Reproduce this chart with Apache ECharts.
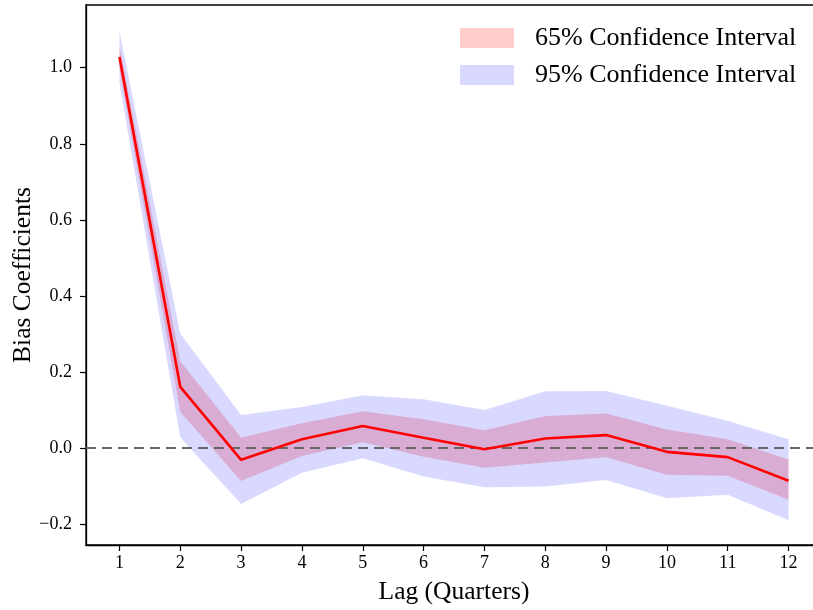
<!DOCTYPE html>
<html>
<head>
<meta charset="utf-8">
<script src="https://cdn.jsdelivr.net/npm/echarts@6/dist/echarts.min.js"></script>
<style>
html,body{margin:0;padding:0;background:#fff;}
#chart{width:813px;height:610px;}
</style>
</head>
<body>
<div id="chart"></div>
<script>
const lags = [1, 2, 3, 4, 5, 6, 7, 8, 9, 10, 11, 12];
const coef    = [1.028, 0.161, -0.031, 0.023, 0.058, 0.027, -0.003, 0.025, 0.034, -0.010, -0.024, -0.086];
const upper65 = [1.058, 0.228, 0.028, 0.065, 0.097, 0.076, 0.047, 0.084, 0.091, 0.049, 0.023, -0.030];
const lower65 = [0.998, 0.095, -0.087, -0.021, 0.015, -0.023, -0.052, -0.038, -0.024, -0.070, -0.073, -0.136];
const upper95 = [1.096, 0.301, 0.087, 0.108, 0.139, 0.128, 0.100, 0.149, 0.150, 0.111, 0.072, 0.023];
const lower95 = [0.960, 0.028, -0.147, -0.065, -0.027, -0.075, -0.103, -0.101, -0.084, -0.132, -0.123, -0.190];
const xTicks = [1, 2, 3, 4, 5, 6, 7, 8, 9, 10, 11, 12];
const yTicks = [-0.2, 0.0, 0.2, 0.4, 0.6, 0.8, 1.0];
const band65Name = '65% Confidence Interval';
const band95Name = '95% Confidence Interval';

const FONT = 'Liberation Serif';
const C65 = 'rgba(255,0,0,0.2)';
const C95 = 'rgba(0,0,255,0.15)';

function bandRenderer(upper, lower, color) {
  return function (params, api) {
    if (params.dataIndex !== 0) return null;
    const pts = [];
    for (let i = 0; i < lags.length; i++) pts.push(api.coord([lags[i], upper[i]]));
    for (let i = lags.length - 1; i >= 0; i--) pts.push(api.coord([lags[i], lower[i]]));
    return {
      type: 'polygon',
      shape: { points: pts },
      style: { fill: color, stroke: null }
    };
  };
}

const chart = echarts.init(document.getElementById('chart'), null, { renderer: 'canvas' });
chart.setOption({
  animation: false,
  backgroundColor: '#fff',
  textStyle: { fontFamily: FONT },
  grid: {
    left: 86, top: 5, bottom: 65, right: -9,
    outerBoundsMode: 'none',
    containLabel: false,
    show: true, borderColor: '#000', borderWidth: 1.3, backgroundColor: 'transparent'
  },
  legend: {
    orient: 'vertical',
    left: 460, top: 25,
    padding: 0,
    itemWidth: 54, itemHeight: 20, itemGap: 11,
    textStyle: { fontFamily: FONT, fontSize: 26, color: '#000', padding: [2, 0, 0, 16] },
    data: [
      { name: band65Name, icon: 'rect', itemStyle: { color: C65 } },
      { name: band95Name, icon: 'rect', itemStyle: { color: C95 } }
    ]
  },
  xAxis: {
    type: 'value',
    min: 0.45, max: 12.55,
    name: 'Lag (Quarters)',
    nameLocation: 'middle',
    nameGap: 34,
    nameMoveOverlap: false,
    nameTextStyle: { fontFamily: FONT, fontSize: 25.5, color: '#000' },
    axisLine: { onZero: false, lineStyle: { color: '#000', width: 1.3 } },
    axisTick: { show: true, length: 6, customValues: xTicks, lineStyle: { color: '#000', width: 1.2 } },
    axisLabel: { customValues: xTicks, fontFamily: FONT, fontSize: 18, color: '#000', margin: 9 },
    splitLine: { show: false }
  },
  yAxis: {
    type: 'value',
    min: -0.255, max: 1.165,
    name: 'Bias Coefficients',
    nameLocation: 'middle',
    nameGap: 50,
    nameMoveOverlap: false,
    nameRotate: 90,
    nameTextStyle: { fontFamily: FONT, fontSize: 25.5, color: '#000' },
    axisLine: { show: true, onZero: false, lineStyle: { color: '#000', width: 1.3 } },
    axisTick: { show: true, length: 6, customValues: yTicks, lineStyle: { color: '#000', width: 1.2 } },
    axisLabel: {
      customValues: yTicks, fontFamily: FONT, fontSize: 18, color: '#000', margin: 14,
      formatter: v => (v < -1e-9 ? '\u2212' : '') + Math.abs(v).toFixed(1)
    },
    splitLine: { show: false }
  },
  series: [
    {
      name: band65Name,
      type: 'custom',
      coordinateSystem: 'cartesian2d',
      itemStyle: { color: C65 },
      data: lags.map((l, i) => [l, upper65[i], lower65[i]]),
      renderItem: bandRenderer(upper65, lower65, C65),
      z: 1
    },
    {
      name: band95Name,
      type: 'custom',
      coordinateSystem: 'cartesian2d',
      itemStyle: { color: C95 },
      data: lags.map((l, i) => [l, upper95[i], lower95[i]]),
      renderItem: bandRenderer(upper95, lower95, C95),
      z: 2
    },
    {
      name: 'Coefficient',
      type: 'line',
      data: lags.map((l, i) => [l, coef[i]]),
      showSymbol: false,
      symbol: 'none',
      lineStyle: { color: '#ff0000', width: 2.6 },
      z: 4,
      markLine: {
        silent: true,
        symbol: 'none',
        label: { show: false },
        lineStyle: { color: '#666666', type: [10, 6], width: 2.2 },
        data: [{ yAxis: 0 }],
        z: 3
      }
    }
  ]
});
</script>
</body>
</html>
